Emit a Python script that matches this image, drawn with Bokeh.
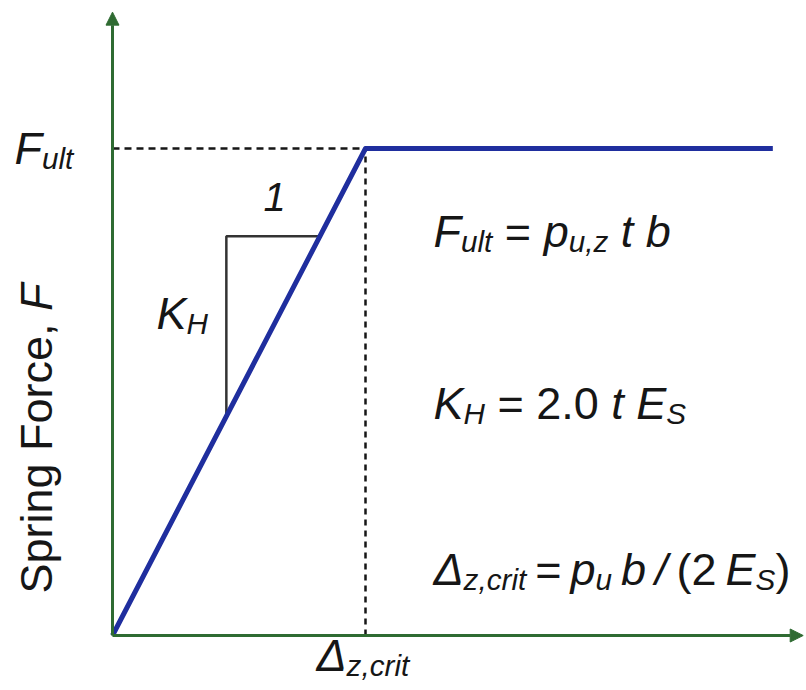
import math

from bokeh.embed import file_html
from bokeh.models import Arrow, Label, NormalHead, Range1d
from bokeh.plotting import figure
from bokeh.resources import INLINE

# --- bilinear spring model (normalised: displacement / delta_crit, force / F_ult)
displacement = [0.0, 1.0, 2.61]
spring_force = [0.0, 1.0, 1.0]
delta_crit = 1.0
f_ult = 1.0
# slope indicator legs along the elastic branch
slope_leg = [0.45, 0.82]
# axis extents (arrow tips)
x_axis_end = 2.73
y_axis_end = 1.28

W, H = 806, 690
X0, XS = 112, 253    # pixel of origin, pixels per unit displacement
Y0, YS = 635, 487    # pixel of origin, pixels per unit force

p = figure(
    width=W, height=H, output_backend="svg", toolbar_location=None,
    x_range=Range1d(-X0 / XS, (W - X0) / XS),
    y_range=Range1d(-(H - Y0) / YS, Y0 / YS),
    x_axis_location=None, y_axis_location=None,
    min_border=0, outline_line_color=None,
)
p.grid.visible = False
p.background_fill_color = "white"
p.border_fill_color = "white"

GREEN = "#2f6b32"
BLUE = "#1f2e9e"
INK = "#161616"

# axes with arrow heads
for xe, ye in [(x_axis_end, 0.0), (0.0, y_axis_end)]:
    p.add_layout(Arrow(
        x_start=0.0, y_start=0.0, x_end=xe, y_end=ye,
        line_color=GREEN, line_width=3,
        end=NormalHead(size=13, fill_color=GREEN, line_color=GREEN, line_width=1),
    ))

# guide lines to the yield point
p.line([0.0, delta_crit], [f_ult, f_ult], line_color=INK, line_width=2.5, line_dash="7 5")
p.line([delta_crit, delta_crit], [0.0, f_ult], line_color=INK, line_width=2.5, line_dash="6 5")

# slope triangle
a, b = slope_leg
p.line([a, a, b], [a, b, b], line_color="#333333", line_width=2.5)

# force-displacement curve
p.line(displacement, spring_force, line_color=BLUE, line_width=5, line_join="round")

# --- text with sub-scripts, laid out run by run using Arial advance widths
ADV = {
    "F": .611, "u": .556, "l": .222, "t": .278, " ": .278, "=": .584, "p": .556,
    ",": .278, "z": .500, "b": .556, "K": .667, "H": .722, "2": .556, ".": .278,
    "0": .556, "E": .667, "S": .667, "\u0394": .668, "c": .500, "r": .333,
    "i": .222, "/": .278, "(": .333, ")": .333, "1": .556, "n": .556, "g": .556,
    "o": .556, "e": .556,
}
FONT = "Liberation Sans"
SUB = 0.66
LIFT = 15  # baseline correction for the label renderer, px
SP = " "


def width(s, size):
    return sum(ADV.get(ch, .556) for ch in s) * size


def fx(px):
    return (px - X0) / XS


def fy(py):
    return (Y0 - py) / YS


def runs(px, py, parts, size=45, vertical=False, gap=0.278):
    """parts: (text, is_sub, italic) or SP for a plain word gap"""
    pos = 0.0
    for part in parts:
        if part == SP:
            pos += gap * size
            continue
        text, is_sub, italic = part
        fs = size * SUB if is_sub else size
        drop = size * 0.22 if is_sub else 0.0
        if vertical:
            x, y, ang = px + drop - LIFT, py - pos, math.pi / 2
        else:
            x, y, ang = px + pos, py + drop - LIFT, 0.0
        p.add_layout(Label(
            x=fx(x), y=fy(y), text=text, angle=ang,
            text_font=FONT, text_font_size=f"{fs:.1f}px",
            text_font_style="italic" if italic else "normal",
            text_color=INK, text_align="left", text_baseline="alphabetic",
        ))
        pos += width(text, fs)


# axis labels
runs(14, 163, [("F", False, True), ("ult", True, True)])
runs(316, 670, [("\u0394", False, True), ("z,crit", True, True)])
runs(51, 593, [("Spring", False, False), SP, ("Force,", False, False), SP,
               ("F", False, True)], vertical=True)

# slope triangle labels
runs(263, 211, [("1", False, True)], size=40)
runs(156, 328, [("K", False, True), ("H", True, True)])

# formulas
runs(433, 246, [("F", False, True), ("ult", True, True), SP, ("=", False, False), SP,
                ("p", False, True), ("u,z", True, True), SP, ("t", False, True), SP,
                ("b", False, True)])
runs(433, 418, [("K", False, True), ("H", True, True), SP, ("=", False, False), SP,
                ("2.0", False, False), SP, ("t", False, True), SP,
                ("E", False, True), ("S", True, True)])
runs(433, 584, [("\u0394", False, True), ("z,crit", True, True), SP, ("=", False, False), SP,
                ("p", False, True), ("u", True, True), SP, ("b", False, True), SP,
                ("/", False, True), SP, ("(2", False, False), SP,
                ("E", False, True), ("S", True, True), (")", False, False)],
     gap=0.2)

open("out.html", "w").write(file_html(p, INLINE))
